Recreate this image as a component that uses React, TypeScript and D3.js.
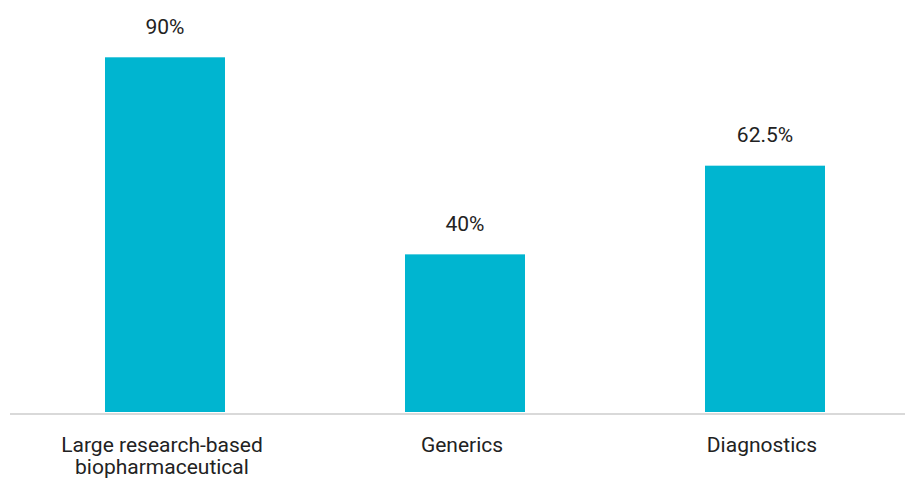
import React from "react";
import * as d3 from "d3";

const categories = ["Large research-based biopharmaceutical", "Generics", "Diagnostics"];
const categoryLines = [["Large research-based", "biopharmaceutical"], ["Generics"], ["Diagnostics"]];
const values = [90, 40, 62.5];
const valueLabels = ["90%", "40%", "62.5%"];

const W = 905;
const H = 478;

export default function App() {
  const x = d3.scaleBand<string>().domain(categories).range([15, 915]).paddingInner(0.6).paddingOuter(0.3);
  const y = d3.scaleLinear().domain([0, 90]).range([412, 57.3]);
  const font = "Roboto, sans-serif";
  return (
    <svg width={W} height={H} style={{ position: "absolute", left: 0, top: 0, background: "#fff" }}>
      {categories.map((c, i) => (
        <g key={c}>
          <rect x={x(c)} y={y(values[i])} width={x.bandwidth()} height={y(0) - y(values[i])} fill="#00b5d0" />
          <text x={x(c)! + x.bandwidth() / 2} y={y(values[i]) - 23.5} textAnchor="middle" fontFamily={font} fontSize={21} fill="#222">
            {valueLabels[i]}
          </text>
          {categoryLines[i].map((l, j) => (
            <text key={j} x={x(c)! + x.bandwidth() / 2 - 3} y={452 + j * 22} textAnchor="middle" fontFamily={font} fontSize={21} fill="#222">
              {l}
            </text>
          ))}
        </g>
      ))}
      <line x1={10} x2={W} y1={414} y2={414} stroke="#d9d9d9" strokeWidth={2} />
    </svg>
  );
}
